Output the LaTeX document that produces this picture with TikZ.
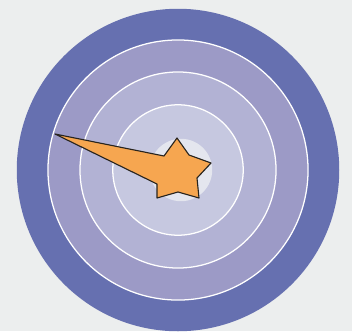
\documentclass[tikz,border=0pt]{standalone}
\usepackage{xcolor}
\usepackage{tikz}
\usetikzlibrary{calc}
\definecolor{mybg}{RGB}{236,238,238}
\definecolor{ringa}{RGB}{102,112,176}
\definecolor{ringb}{RGB}{156,154,198}
\definecolor{ringc}{RGB}{178,178,212}
\definecolor{ringd}{RGB}{198,200,224}
\definecolor{ringe}{RGB}{228,230,238}
\definecolor{starfill}{RGB}{246,166,80}
\definecolor{stardark}{RGB}{40,36,30}
\tikzset{
  ring/.style={line width=0.9pt, draw=white},
  star/.style={fill=starfill, draw=stardark, line width=0.8pt, line join=round}
}

\begin{document}
\begin{tikzpicture}[x=0.025cm, y=-0.025cm]
  % background, fixes the picture size
  \fill[mybg] (0,0) rectangle (352,331);
  \useasboundingbox (0,0) rectangle (352,331);

  % target rings
  \coordinate (c) at (178,170);
  \fill[ringa] (c) circle [radius=4.03cm];
  \filldraw[ring, fill=ringb] (c) circle [radius=3.25cm];
  \filldraw[ring, fill=ringc] (c) circle [radius=2.45cm];
  \filldraw[ring, fill=ringd] (c) circle [radius=1.63cm];
  \fill[ringe] (181,170) circle [radius=0.78cm];

  % shooting star
  \draw[star] (55,134) -- (164,156) -- (177,138) -- (189,155) -- (211,163)
    -- (197,178) -- (199,198) -- (178,192) -- (157,198) -- (157,184) -- cycle;
\end{tikzpicture}
\end{document}
